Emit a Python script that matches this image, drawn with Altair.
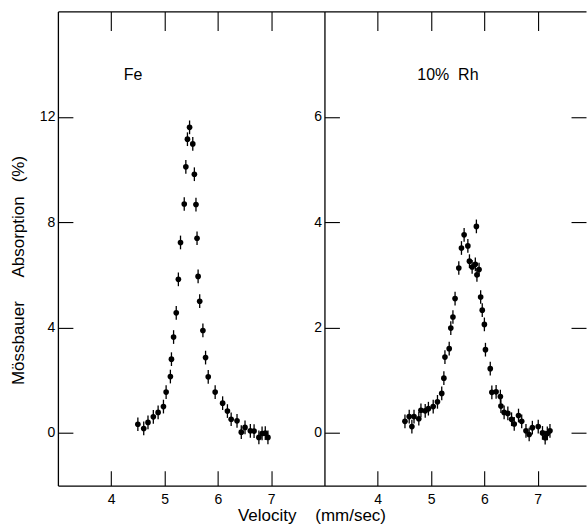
import altair as alt
import pandas as pd

# ---- data ----
fe_v = [4.50, 4.61, 4.69, 4.79, 4.88, 4.98, 5.03, 5.11, 5.13, 5.17, 5.22, 5.26, 5.30,
        5.37, 5.40, 5.43, 5.47, 5.53, 5.56, 5.59, 5.61, 5.63, 5.66, 5.72, 5.77, 5.82,
        5.95, 6.09, 6.18, 6.25, 6.36, 6.44, 6.51, 6.61, 6.68, 6.77, 6.83, 6.89, 6.94]
fe_a = [0.33, 0.17, 0.40, 0.61, 0.78, 1.00, 1.55, 2.14, 2.80, 3.64, 4.56, 5.83, 7.23,
        8.69, 10.10, 11.15, 11.60, 10.97, 9.82, 8.67, 7.39, 5.94, 5.00, 3.89, 2.86, 2.13,
        1.55, 1.13, 0.83, 0.52, 0.46, 0.03, 0.21, 0.08, 0.07, -0.17, -0.02, -0.01, -0.17]

rh_v = [4.51, 4.59, 4.64, 4.68, 4.77, 4.81, 4.89, 4.95, 5.04, 5.12, 5.20, 5.24, 5.26,
        5.34, 5.37, 5.41, 5.45, 5.52, 5.57, 5.62, 5.69, 5.72, 5.77, 5.83, 5.85, 5.86,
        5.90, 5.93, 5.96, 6.00, 6.02, 6.11, 6.14, 6.22, 6.30, 6.31, 6.37, 6.44, 6.51,
        6.56, 6.64, 6.70, 6.78, 6.84, 6.90, 7.01, 7.09, 7.14, 7.18, 7.23]
rh_a = [0.22, 0.31, 0.12, 0.31, 0.27, 0.43, 0.42, 0.46, 0.50, 0.59, 0.75, 1.04, 1.44,
        1.60, 1.99, 2.20, 2.55, 3.13, 3.51, 3.76, 3.55, 3.26, 3.15, 3.20, 3.92, 3.00,
        3.10, 2.58, 2.33, 2.06, 1.58, 1.22, 0.77, 0.78, 0.69, 0.51, 0.39, 0.37, 0.26,
        0.17, 0.33, 0.22, 0.04, -0.03, 0.10, 0.12, 0.00, -0.09, -0.01, 0.04]

fe_err = 0.26
rh_err = 0.13

x_ticks = [4, 5, 6, 7]
fe_y_ticks = [0, 4, 8, 12]
rh_y_ticks = [0, 2, 4, 6]

panel_labels = ["Fe", "10%\u00a0\u00a0Rh"]
x_title = "Velocity\u00a0\u00a0\u00a0\u00a0(mm/sec)"
y_title = ("Mössbauer" + "\u00a0" * 5 + "Absorption" + "\u00a0" * 3 + "(%)")

FONT = "Liberation Sans"
H = 475
common = dict(grid=False, labelFont=FONT, labelFontSize=14, labelColor="black",
              domainColor="black", domainWidth=1.3, tickColor="black", tickWidth=1.1,
              titleFont=FONT, titleColor="black", titleFontWeight="normal")


def panel(v, a, err, ydom, yticks, xdom, width, label, label_dx, is_left):
    df = pd.DataFrame({"v": v, "a": a})
    df["lo"] = df["a"] - err
    df["hi"] = df["a"] + err
    xs = alt.Scale(domain=xdom, nice=False, zero=False)
    ys = alt.Scale(domain=ydom, nice=False, zero=False)
    base = alt.Chart(df)

    if is_left:
        x_main = alt.Axis(orient="bottom", values=x_ticks, ticks=False, domain=True,
                          labelPadding=7, title=x_title, titleFontSize=17,
                          titleX=254, titleY=35, titleAlign="center",
                          titleBaseline="alphabetic", **common)
        y_main = alt.Axis(orient="left", values=yticks, ticks=False, domain=True,
                          labelPadding=3, title=y_title, titleFontSize=17,
                          titleAngle=270, titleX=-39, titleY=259, titleAlign="center",
                          titleBaseline="middle", **common)
    else:
        x_main = alt.Axis(orient="bottom", values=x_ticks, ticks=False, domain=True,
                          labelPadding=7, title=None, **common)
        y_main = alt.Axis(orient="left", values=yticks, ticks=False, domain=True,
                          labelPadding=3, title=None, **common)

    bars = base.mark_rule(color="black", strokeWidth=1.3).encode(
        x=alt.X("v:Q", scale=xs, axis=x_main),
        y=alt.Y("lo:Q", scale=ys, axis=y_main),
        y2="hi:Q",
    )
    pts = base.mark_circle(color="black", opacity=1, size=32).encode(
        x=alt.X("v:Q", scale=xs,
                axis=alt.Axis(orient="top", values=x_ticks, labels=False, ticks=False,
                              domain=True, title=None, **common)),
        y=alt.Y("a:Q", scale=ys,
                axis=alt.Axis(orient="left", values=yticks, labels=False, domain=False,
                              ticks=True, tickSize=15, offset=-15, title=None, **common)),
    )
    right_axis = None
    if not is_left:
        right_axis = alt.Axis(orient="right", values=yticks, labels=False, domain=False,
                              ticks=True, tickSize=15, offset=-15, title=None, **common)
    top_ticks = base.mark_point(opacity=0).encode(
        x=alt.X("v:Q", scale=xs,
                axis=alt.Axis(orient="top", values=x_ticks, labels=False, domain=False,
                              ticks=True, tickSize=19, offset=-19, title=None, **common)),
        y=alt.Y("a:Q", scale=ys, axis=right_axis),
    )
    bottom_ticks = base.mark_point(opacity=0).encode(
        x=alt.X("v:Q", scale=xs,
                axis=alt.Axis(orient="bottom", values=x_ticks, labels=False, domain=False,
                              ticks=True, tickSize=15, offset=-15, title=None, **common)),
        y=alt.Y("a:Q", scale=ys, axis=None),
    )
    return alt.layer(bars, pts, top_ticks, bottom_ticks).resolve_axis(
        x="independent", y="independent"
    ).properties(
        width=width, height=H,
        title=alt.TitleParams(text=label, anchor="start", frame="group", dx=label_dx,
                              offset=-80, baseline="middle", fontSize=16, font=FONT,
                              fontWeight="normal", color="black"),
    )


left = panel(fe_v, fe_a, fe_err, [-2, 16], fe_y_ticks, [3, 8], 267,
             panel_labels[0], 66, True)
right = panel(rh_v, rh_a, rh_err, [-1, 8], rh_y_ticks, [3, 7.906], 262,
              panel_labels[1], 93, False)

chart = alt.hconcat(left, right, spacing=0, bounds="flush").properties(
    padding={"left": 10, "top": 10, "right": 0, "bottom": 0},
    background="white",
).configure_view(strokeOpacity=0)

chart.save("out.html", embed_options={"renderer": "svg", "actions": False})
